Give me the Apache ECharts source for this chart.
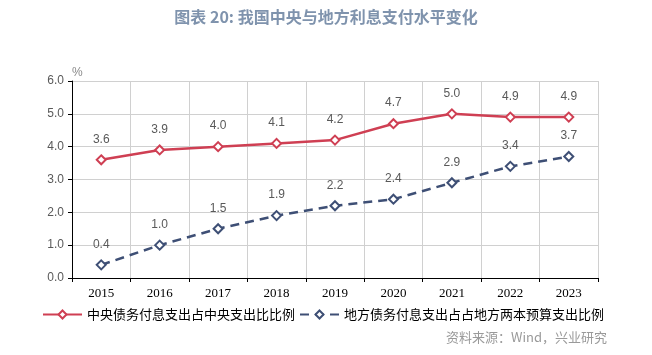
<!DOCTYPE html>
<html><head><meta charset="utf-8">
<script src="https://cdn.jsdelivr.net/npm/echarts@6/dist/echarts.min.js"></script>
<style>html,body{margin:0;padding:0;background:#fff}#c{width:652px;height:355px}</style>
</head><body><div id="c"></div>
<script>
const categories = ['2015','2016','2017','2018','2019','2020','2021','2022','2023'];
const centralRatio = [3.6, 3.9, 4.0, 4.1, 4.2, 4.7, 5.0, 4.9, 4.9];
const localRatio = [0.4, 1.0, 1.5, 1.9, 2.2, 2.4, 2.9, 3.4, 3.7];
const seriesNames = ['中央债务付息支出占中央支出比比例', '地方债务付息支出占占地方两本预算支出比例'];
const titleText = '图表 20: 我国中央与地方利息支付水平变化';
const sourceText = '资料来源：Wind，兴业研究';

const chart = echarts.init(document.getElementById('c'));
const labelStyle = { show: true, position: 'top', distance: 9, color: '#595959', fontSize: 12, fontFamily: 'Liberation Sans', formatter: p => p.value.toFixed(1) };
chart.setOption({
  animation: false,
  title: { text: titleText, left: 'center', top: 4, textStyle: { color: '#7f93ad', fontSize: 16, fontWeight: 'bold', fontFamily: 'Noto Sans CJK SC' } },
  graphic: [{ type: 'text', right: 45, top: 331, style: { text: sourceText, fill: '#9a9a9a', fontSize: 13, fontFamily: 'Noto Sans CJK SC' } }],
  legend: { left: 37, top: 303, itemWidth: 39, itemHeight: 10, itemGap: 4, textStyle: { fontSize: 13, color: '#000', fontFamily: 'Noto Sans CJK SC' }, data: seriesNames },
  grid: { left: 72, right: 54, top: 81, bottom: 77 },
  xAxis: {
    type: 'category', data: categories, boundaryGap: true,
    axisLine: { lineStyle: { color: '#000', width: 1 } },
    axisTick: { show: true, length: 4, lineStyle: { color: '#000' } },
    axisLabel: { color: '#000', fontSize: 13, fontFamily: 'Liberation Serif', margin: 9 },
    splitLine: { show: true, lineStyle: { color: '#d0d0d0' } }
  },
  yAxis: {
    type: 'value', min: 0, max: 6, interval: 1, name: '%', nameGap: 2,
    nameTextStyle: { color: '#8a8a8a', fontSize: 12, align: 'left', padding: [0, 0, 0, 0] },
    axisLine: { show: true, lineStyle: { color: '#000' } },
    axisTick: { show: true, length: 4, lineStyle: { color: '#000' } },
    axisLabel: { color: '#595959', fontSize: 12, fontFamily: 'Liberation Sans', margin: 8, formatter: v => v.toFixed(1) },
    splitLine: { show: true, lineStyle: { color: '#d0d0d0' } }
  },
  series: [
    { name: seriesNames[0], type: 'line', data: centralRatio, symbol: 'diamond', symbolSize: 9,
      lineStyle: { color: '#cf3f53', width: 2.5 }, itemStyle: { color: '#ffffff', borderColor: '#cf3f53', borderWidth: 2 },
      label: labelStyle },
    { name: seriesNames[1], type: 'line', data: localRatio, symbol: 'diamond', symbolSize: 9,
      lineStyle: { color: '#3e4f75', width: 2.5, type: [9, 6] }, itemStyle: { color: '#ffffff', borderColor: '#3e4f75', borderWidth: 2 },
      label: labelStyle }
  ]
});
</script></body></html>
